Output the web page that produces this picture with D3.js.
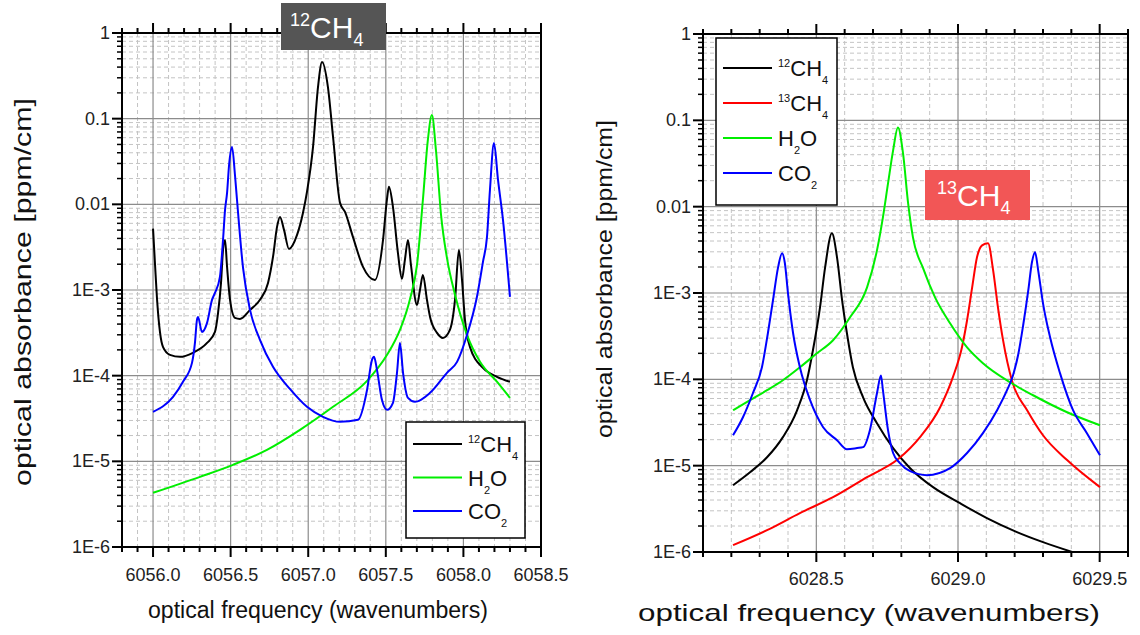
<!DOCTYPE html>
<html>
<head>
<meta charset="utf-8">
<script src="https://cdn.jsdelivr.net/npm/d3@7"></script>
<style>
  body { margin: 0; background: #fff; }
  svg { display: block; font-family: Arial, "Liberation Sans", sans-serif; }
</style>
</head>
<body>
<div class="vis"></div>
<script>
// ---- data: [wavenumber, absorbance ppm/cm] ----
const ch4Left = [[6056.000,5.2e-3],[6056.013,1.96e-3],[6056.026,7.7e-4],[6056.045,3.2e-4],[6056.064,2.17e-4],[6056.109,1.75e-4],[6056.174,1.66e-4],[6056.257,1.85e-4],[6056.348,2.41e-4],[6056.399,3.24e-4],[6056.419,5.4e-4],[6056.438,1.21e-3],[6056.451,2.94e-3],[6056.464,3.84e-3],[6056.477,1.86e-3],[6056.496,7.7e-4],[6056.528,4.72e-4],[6056.560,4.6e-4],[6056.625,5.86e-4],[6056.689,7.7e-4],[6056.741,1.21e-3],[6056.773,2.43e-3],[6056.799,5.45e-3],[6056.818,7.13e-3],[6056.844,5.03e-3],[6056.876,3.02e-3],[6056.928,4.4e-3],[6056.966,7.94e-3],[6056.992,1.4e-2],[6057.031,4.68e-2],[6057.063,0.234],[6057.089,0.459],[6057.127,0.234],[6057.160,0.0611],[6057.205,0.0104],[6057.237,8.15e-3],[6057.288,4.17e-3],[6057.353,1.86e-3],[6057.430,1.31e-3],[6057.482,3.84e-3],[6057.507,0.01125],[6057.520,0.016],[6057.546,9.33e-3],[6057.578,2.71e-3],[6057.604,1.35e-3],[6057.623,2.25e-3],[6057.643,3.84e-3],[6057.662,1.96e-3],[6057.701,6.7e-4],[6057.720,1.0e-3],[6057.739,1.5e-3],[6057.765,7.7e-4],[6057.785,4.85e-4],[6057.830,3.16e-4],[6057.868,2.76e-4],[6057.913,3.42e-4],[6057.946,7.7e-4],[6057.971,2.94e-3],[6057.991,1.31e-3],[6058.010,4.48e-4],[6058.042,2.17e-4],[6058.126,1.23e-4],[6058.216,9.7e-5],[6058.300,8.5e-5]];
const h2oLeft = [[6056.000,4.29e-6],[6056.303,6.59e-6],[6056.515,9.1e-6],[6056.734,1.36e-5],[6056.947,2.33e-5],[6057.160,4.33e-5],[6057.379,8.7e-5],[6057.508,1.75e-4],[6057.591,3.42e-4],[6057.656,7.87e-4],[6057.701,1.96e-3],[6057.739,0.0113],[6057.771,0.0564],[6057.797,0.11],[6057.823,0.0431],[6057.856,7.5e-3],[6057.894,2.37e-3],[6057.946,8.8e-4],[6058.023,2.99e-4],[6058.107,1.45e-4],[6058.216,8.5e-5],[6058.300,5.5e-5]];
const co2Left = [[6056.000,3.78e-5],[6056.129,5.66e-5],[6056.193,8.47e-5],[6056.251,1.41e-4],[6056.270,2.41e-4],[6056.283,4.48e-4],[6056.290,4.85e-4],[6056.315,3.24e-4],[6056.348,4.13e-4],[6056.380,7.66e-4],[6056.399,9.25e-4],[6056.431,1.42e-3],[6056.451,3.84e-3],[6056.464,8.6e-3],[6056.477,0.0136],[6056.490,0.0288],[6056.509,0.0468],[6056.528,0.022],[6056.541,0.0113],[6056.580,1.81e-3],[6056.625,5.86e-4],[6056.689,2.62e-4],[6056.773,1.27e-4],[6056.882,7.0e-5],[6056.992,4.33e-5],[6057.095,3.31e-5],[6057.205,2.89e-5],[6057.321,3.05e-5],[6057.379,6.8e-5],[6057.411,1.53e-4],[6057.424,1.66e-4],[6057.443,1.17e-4],[6057.475,5.22e-5],[6057.508,3.99e-5],[6057.546,4.82e-5],[6057.572,1.08e-4],[6057.591,2.41e-4],[6057.611,1.08e-4],[6057.643,5.5e-5],[6057.688,4.95e-5],[6057.785,6.3e-5],[6057.894,1.08e-4],[6057.959,1.45e-4],[6058.023,2.99e-4],[6058.087,8.3e-4],[6058.126,2.13e-3],[6058.152,4.17e-3],[6058.171,0.0147],[6058.197,0.052],[6058.223,0.0193],[6058.255,6.6e-3],[6058.300,8.3e-4]];

const ch4Right = [[6028.206,5.94e-6],[6028.266,8.4e-6],[6028.326,1.25e-5],[6028.382,2.14e-5],[6028.432,4.38e-5],[6028.467,9.8e-5],[6028.488,2.17e-4],[6028.513,6.83e-4],[6028.531,1.98e-3],[6028.555,4.91e-3],[6028.573,2.59e-3],[6028.591,8.2e-4],[6028.608,3.42e-4],[6028.629,1.38e-4],[6028.665,6.2e-5],[6028.714,3.1e-5],[6028.771,1.6e-5],[6028.831,9.35e-6],[6028.912,5.64e-6],[6029.007,3.68e-6],[6029.102,2.47e-6],[6029.208,1.7e-6],[6029.300,1.3e-6],[6029.403,1.0e-6]];
const ch4c13Right = [[6028.206,1.2e-6],[6028.326,1.79e-6],[6028.442,2.82e-6],[6028.559,4.31e-6],[6028.679,7.36e-6],[6028.790,1.2e-5],[6028.866,2.14e-5],[6028.937,4.75e-5],[6028.982,1.06e-4],[6029.014,2.35e-4],[6029.032,4.83e-4],[6029.050,1.16e-3],[6029.067,2.59e-3],[6029.085,3.56e-3],[6029.106,3.76e-3],[6029.124,1.83e-3],[6029.141,6.83e-4],[6029.159,2.84e-4],[6029.191,9.5e-5],[6029.244,4.39e-5],[6029.300,2.25e-5],[6029.385,1.16e-5],[6029.501,5.64e-6]];
const h2oRight = [[6028.206,4.39e-5],[6028.266,5.73e-5],[6028.326,7.48e-5],[6028.382,9.77e-5],[6028.442,1.38e-4],[6028.502,2.0e-4],[6028.559,2.84e-4],[6028.619,5.24e-4],[6028.679,1.16e-3],[6028.714,3.12e-3],[6028.735,7.52e-3],[6028.753,0.0186],[6028.771,0.0449],[6028.788,0.0828],[6028.806,0.0414],[6028.824,0.0109],[6028.841,4.41e-3],[6028.877,1.93e-3],[6028.919,8.9e-4],[6028.972,4.46e-4],[6029.032,2.35e-4],[6029.088,1.54e-4],[6029.184,9.25e-5],[6029.265,6.54e-5],[6029.385,4.16e-5],[6029.501,2.94e-5]];
const co2Right = [[6028.206,2.25e-5],[6028.241,3.64e-5],[6028.276,6.9e-5],[6028.308,1.38e-4],[6028.329,3.42e-4],[6028.347,8.24e-4],[6028.365,1.98e-3],[6028.379,2.88e-3],[6028.389,2.21e-3],[6028.400,9.9e-4],[6028.418,3.42e-4],[6028.442,1.38e-4],[6028.478,5.73e-5],[6028.524,2.79e-5],[6028.573,1.97e-5],[6028.608,1.55e-5],[6028.644,1.6e-5],[6028.665,1.64e-5],[6028.689,2.58e-5],[6028.714,6.9e-5],[6028.728,1.11e-4],[6028.735,7.48e-5],[6028.753,2.58e-5],[6028.771,1.4e-5],[6028.795,1.07e-5],[6028.831,8.63e-6],[6028.891,7.76e-6],[6028.972,9.35e-6],[6029.032,1.4e-5],[6029.088,2.38e-5],[6029.138,4.39e-5],[6029.173,7.48e-5],[6029.194,1.11e-4],[6029.212,1.9e-4],[6029.230,4.23e-4],[6029.248,1.07e-3],[6029.261,2.27e-3],[6029.272,2.96e-3],[6029.283,1.83e-3],[6029.300,7.6e-4],[6029.325,3.07e-4],[6029.360,1.18e-4],[6029.406,4.39e-5],[6029.455,2.38e-5],[6029.501,1.32e-5]];

// axis ticks / labels
const leftXDomain = [6055.8, 6058.5];
const leftXLabels = [6056.0, 6056.5, 6057.0, 6057.5, 6058.0, 6058.5];
const rightXDomain = [6028.1, 6029.6];
const rightXLabels = [6028.5, 6029.0, 6029.5];
const yTicks = [1, 0.1, 0.01, 1e-3, 1e-4, 1e-5, 1e-6];
const yTickLabels = ["1", "0.1", "0.01", "1E-3", "1E-4", "1E-5", "1E-6"];

const colors = { ch4: "#000000", ch4c13: "#ff0000", h2o: "#00ee00", co2: "#0000ff" };

const labelCH4 = [{ t: "12", s: "sup" }, { t: "CH" }, { t: "4", s: "sub" }];
const label13CH4 = [{ t: "13", s: "sup" }, { t: "CH" }, { t: "4", s: "sub" }];
const labelH2O = [{ t: "H" }, { t: "2", s: "sub" }, { t: "O" }];
const labelCO2 = [{ t: "CO" }, { t: "2", s: "sub" }];

// write text with small raised / lowered parts
const richText = (sel, parts, size, small, up, down) => {
    let shift = 0;
    parts.forEach(p => {
        const target = p.s === "sup" ? -up : p.s === "sub" ? down : 0;
        sel.append("tspan")
            .attr("dy", target - shift)
            .attr("font-size", p.s ? small : size)
            .text(p.t);
        shift = target;
    });
};

const svg = d3.select(".vis")
    .append("svg")
    .attr("width", 1140)
    .attr("height", 635);

const drawPanel = (opt) => {
    const { box } = opt;
    const x = d3.scaleLinear().domain(opt.xDomain).range([box.x0, box.x1]);
    const y = d3.scaleLog().domain([1e-6, 1]).range([box.y1, box.y0]);
    const g = svg.append("g");

    // minor positions
    const nX = Math.round((opt.xDomain[1] - opt.xDomain[0]) / 0.1);
    const xAll = d3.range(nX + 1).map(i => +(opt.xDomain[0] + i * 0.1).toFixed(2));
    const isMajor = v => Math.abs(v * 2 - Math.round(v * 2)) < 1e-6;
    const yMinor = [];
    for (let e = -6; e < 0; e++) for (let k = 2; k <= 9; k++) yMinor.push(k * Math.pow(10, e));

    // minor dashed grid
    g.append("g").selectAll("line").data(xAll.filter(v => !isMajor(v)))
        .join("line")
        .attr("x1", d => x(d)).attr("x2", d => x(d))
        .attr("y1", box.y0).attr("y2", box.y1)
        .attr("stroke", "#c4c4c4").attr("stroke-dasharray", "4,3");
    g.append("g").selectAll("line").data(yMinor)
        .join("line")
        .attr("x1", box.x0).attr("x2", box.x1)
        .attr("y1", d => y(d)).attr("y2", d => y(d))
        .attr("stroke", "#c4c4c4").attr("stroke-dasharray", "4,3");

    // major grid
    g.append("g").selectAll("line").data(xAll.filter(isMajor))
        .join("line")
        .attr("x1", d => x(d)).attr("x2", d => x(d))
        .attr("y1", box.y0).attr("y2", box.y1)
        .attr("stroke", "#8c8c8c").attr("stroke-width", 1.2);
    g.append("g").selectAll("line").data(yTicks)
        .join("line")
        .attr("x1", box.x0).attr("x2", box.x1)
        .attr("y1", d => y(d)).attr("y2", d => y(d))
        .attr("stroke", "#8c8c8c").attr("stroke-width", 1.2);

    // curves
    const clipId = "clip" + opt.id;
    svg.append("clipPath").attr("id", clipId)
        .append("rect")
        .attr("x", box.x0).attr("y", box.y0)
        .attr("width", box.x1 - box.x0).attr("height", box.y1 - box.y0);
    const line = d3.line()
        .x(d => x(d[0]))
        .y(d => y(d[1]))
        .curve(d3.curveMonotoneX);
    opt.series.forEach(s => {
        g.append("path")
            .datum(s.data)
            .attr("clip-path", `url(#${clipId})`)
            .attr("fill", "none")
            .attr("stroke", s.color)
            .attr("stroke-width", 2)
            .attr("stroke-linejoin", "round")
            .attr("d", line);
    });

    // frame
    g.append("rect")
        .attr("x", box.x0).attr("y", box.y0)
        .attr("width", box.x1 - box.x0).attr("height", box.y1 - box.y0)
        .attr("fill", "none").attr("stroke", "#000").attr("stroke-width", 2);

    // ticks bottom + top (outward)
    const tickG = g.append("g").attr("stroke", "#000").attr("stroke-width", 2);
    xAll.forEach(v => {
        const len = isMajor(v) ? 10 : 5;
        tickG.append("line").attr("x1", x(v)).attr("x2", x(v)).attr("y1", box.y1).attr("y2", box.y1 + len);
        tickG.append("line").attr("x1", x(v)).attr("x2", x(v)).attr("y1", box.y0).attr("y2", box.y0 - len);
    });
    yTicks.forEach(v => {
        tickG.append("line").attr("x1", box.x0 - 10).attr("x2", box.x0).attr("y1", y(v)).attr("y2", y(v));
    });
    yMinor.forEach(v => {
        tickG.append("line").attr("x1", box.x0 - 5).attr("x2", box.x0).attr("y1", y(v)).attr("y2", y(v))
            .attr("stroke-width", 1.5);
    });

    // tick labels
    g.append("g").selectAll("text").data(opt.xLabels)
        .join("text")
        .attr("x", d => x(d))
        .attr("y", box.y1 + opt.xLabelDy)
        .attr("text-anchor", "middle")
        .attr("font-size", 18)
        .attr("fill", "#222")
        .text(d => d.toFixed(1));
    g.append("g").selectAll("text").data(yTicks)
        .join("text")
        .attr("x", box.x0 - 12)
        .attr("y", d => y(d) + 6)
        .attr("text-anchor", "end")
        .attr("font-size", 18)
        .attr("fill", "#222")
        .text((d, i) => yTickLabels[i]);

    // axis titles
    g.append("text")
        .attr("transform", `translate(${opt.yTitle.x},${opt.yTitle.y}) rotate(-90)`)
        .attr("text-anchor", "middle")
        .attr("font-size", opt.yTitle.size)
        .attr("textLength", opt.yTitle.len)
        .attr("lengthAdjust", "spacingAndGlyphs")
        .attr("fill", "#111")
        .text("optical absorbance [ppm/cm]");
    g.append("text")
        .attr("x", opt.xTitle.x).attr("y", opt.xTitle.y)
        .attr("text-anchor", "middle")
        .attr("font-size", opt.xTitle.size)
        .attr("textLength", opt.xTitle.len)
        .attr("lengthAdjust", "spacingAndGlyphs")
        .attr("fill", "#111")
        .text("optical frequency (wavenumbers)");

    // legend
    const lg = opt.legend;
    g.append("rect")
        .attr("x", lg.x).attr("y", lg.y).attr("width", lg.w).attr("height", lg.h)
        .attr("fill", "#fff").attr("stroke", "#000").attr("stroke-width", 1.5);
    opt.series.forEach((s, i) => {
        const ly = lg.y + lg.first + i * lg.step;
        g.append("line")
            .attr("x1", lg.x + 7).attr("x2", lg.x + 56)
            .attr("y1", ly).attr("y2", ly)
            .attr("stroke", s.color).attr("stroke-width", 2);
        const t = g.append("text")
            .attr("x", lg.x + 62).attr("y", ly + 8)
            .attr("font-size", 22).attr("fill", "#111");
        richText(t, s.label, 22, 11, 9, 8);
    });
};

drawPanel({
    id: "L",
    box: { x0: 122, x1: 541, y0: 33, y1: 547 },
    xDomain: leftXDomain,
    xLabels: leftXLabels,
    xLabelDy: 34,
    yTitle: { x: 31, y: 292, size: 24, len: 388 },
    xTitle: { x: 318, y: 618, size: 23, len: 340 },
    series: [
        { data: ch4Left, color: colors.ch4, label: labelCH4 },
        { data: h2oLeft, color: colors.h2o, label: labelH2O },
        { data: co2Left, color: colors.co2, label: labelCO2 }
    ],
    legend: { x: 406, y: 422, w: 119, h: 116, first: 22, step: 33.5 }
});

drawPanel({
    id: "R",
    box: { x0: 703, x1: 1128, y0: 34, y1: 552 },
    xDomain: rightXDomain,
    xLabels: rightXLabels,
    xLabelDy: 33,
    yTitle: { x: 612, y: 279, size: 22, len: 318 },
    xTitle: { x: 869, y: 621, size: 24, len: 462 },
    series: [
        { data: ch4Right, color: colors.ch4, label: labelCH4 },
        { data: ch4c13Right, color: colors.ch4c13, label: label13CH4 },
        { data: h2oRight, color: colors.h2o, label: labelH2O },
        { data: co2Right, color: colors.co2, label: labelCO2 }
    ],
    legend: { x: 716, y: 38, w: 121, h: 167, first: 30, step: 35 }
});

// highlighted species tags
const tag = (x0, y0, w, h, fill, label, tx, ty) => {
    svg.append("rect")
        .attr("x", x0).attr("y", y0).attr("width", w).attr("height", h)
        .attr("fill", fill);
    const t = svg.append("text")
        .attr("x", tx).attr("y", ty)
        .attr("fill", "#fff")
        .attr("font-size", 30);
    richText(t, label, 30, 18, 12, 8);
};
tag(281, 3, 105, 47, "#555555", labelCH4, 290, 38);
tag(925, 170, 105, 50, "#f25656", label13CH4, 937, 206);
</script>
</body>
</html>
